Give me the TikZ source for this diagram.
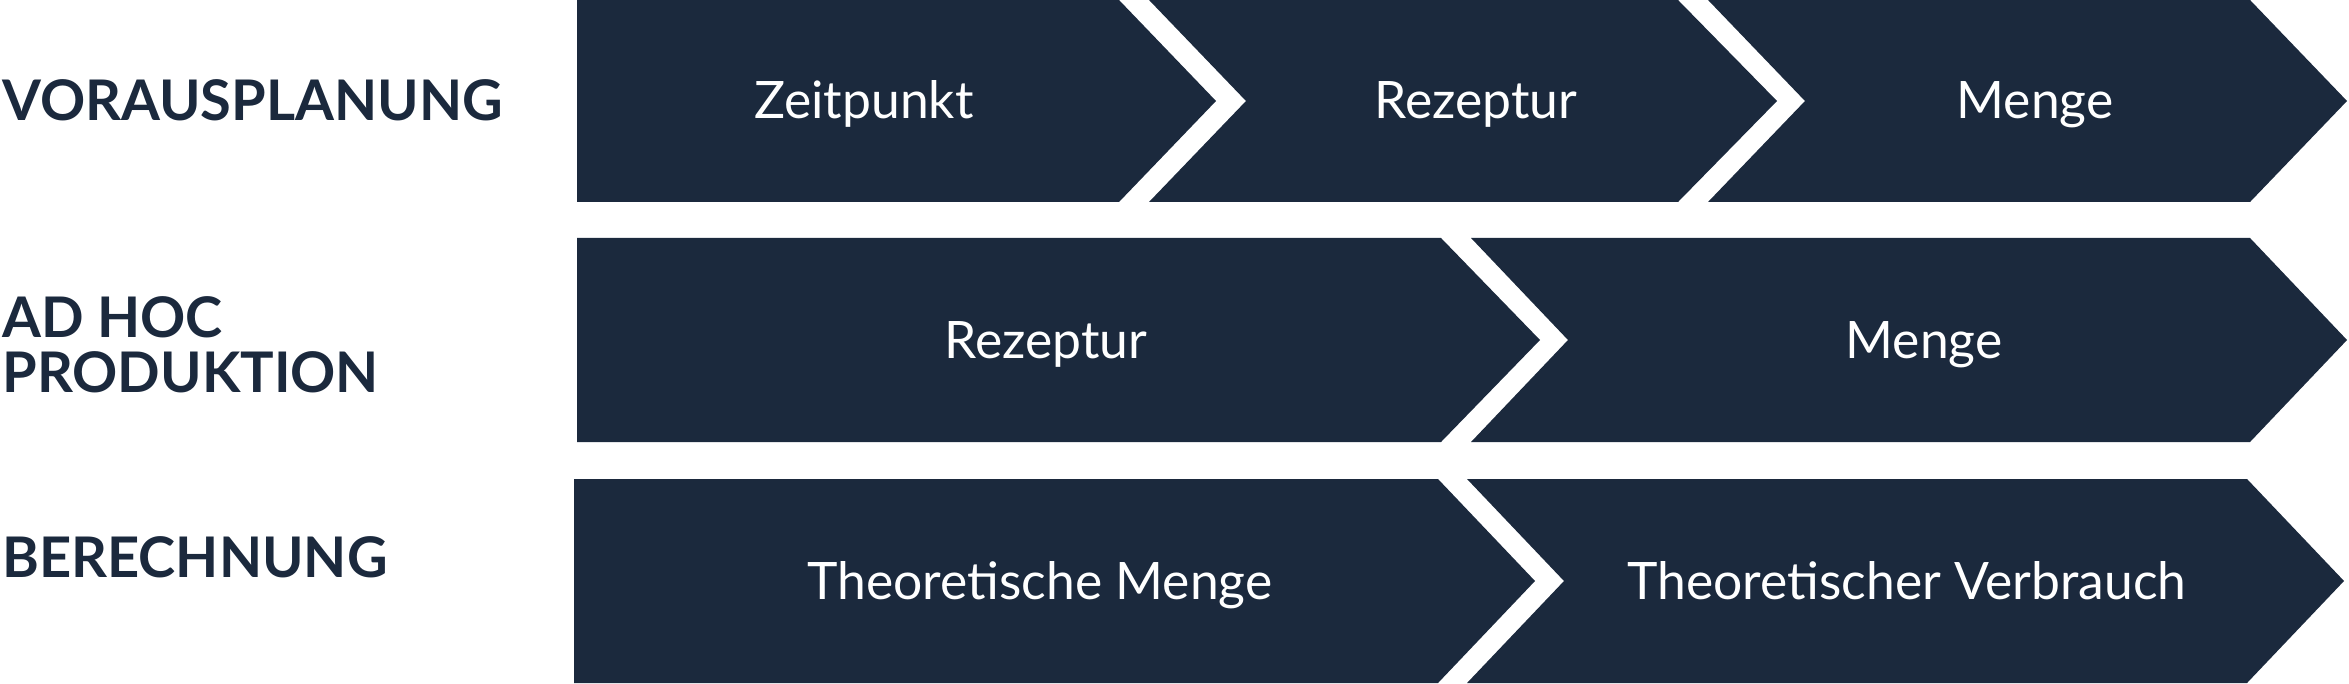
\documentclass[tikz,border=0pt]{standalone}
\usepackage{fontspec}
\setmainfont{Lato}
\newfontfamily\rowfont{Lato}
\definecolor{navy}{HTML}{1B293D}
\tikzset{
  stage/.style={fill=navy},
  stagetext/.style={anchor=base,inner sep=0pt,text=white,font=\fontsize{25.8}{30}\selectfont},
  rowlabel/.style={anchor=base west,inner sep=0pt,text=navy,font=\rowfont\bfseries\fontsize{28}{27}\selectfont}
}
\begin{document}
\begin{tikzpicture}[x=0.5pt,y=-0.5pt]
  \useasboundingbox (0,0) rectangle (2349,684);
  % Vorausplanung
  \fill[stage] (577,0) -- (1119,0) -- (1216,101) -- (1119,202) -- (577,202) -- cycle;
  \fill[stage] (1149,0) -- (1678,0) -- (1777,101) -- (1678,202) -- (1149,202) -- (1246,101) -- cycle;
  \fill[stage] (1708,0) -- (2250,0) -- (2347,101) -- (2250,202) -- (1708,202) -- (1805,101) -- cycle;
  % Ad hoc Produktion
  \fill[stage] (577,238) -- (1441,238) -- (1540,340) -- (1441,442) -- (577,442) -- cycle;
  \fill[stage] (1471,238) -- (2250,238) -- (2347,340) -- (2250,442) -- (1471,442) -- (1568,340) -- cycle;
  % Berechnung
  \fill[stage] (574,479) -- (1438,479) -- (1535,581) -- (1438,683) -- (574,683) -- cycle;
  \fill[stage] (1467,479) -- (2247,479) -- (2344,581) -- (2247,683) -- (1467,683) -- (1564,581) -- cycle;

  \node[rowlabel] (vp) at (2,121) {VORAUSPLANUNG};
  \node[rowlabel] (ah) at (2,337) {AD HOC};
  \node[rowlabel] (pr) at (2,392) {PRODUKTION};
  \node[rowlabel] (be) at (2,577) {BERECHNUNG};

  \node[stagetext] (zeit) at (864,119) {Zeitpunkt};
  \node[stagetext] (rez1) at (1476,119) {Rezeptur};
  \node[stagetext] (men1) at (2035,119) {Menge};
  \node[stagetext] (rez2) at (1046,358) {Rezeptur};
  \node[stagetext] (men2) at (1924,358) {Menge};
  \node[stagetext] (thm) at (1040,599) {Theoretische Menge};
  \node[stagetext] (thv) at (1907,599) {Theoretischer Verbrauch};
\end{tikzpicture}
\end{document}
